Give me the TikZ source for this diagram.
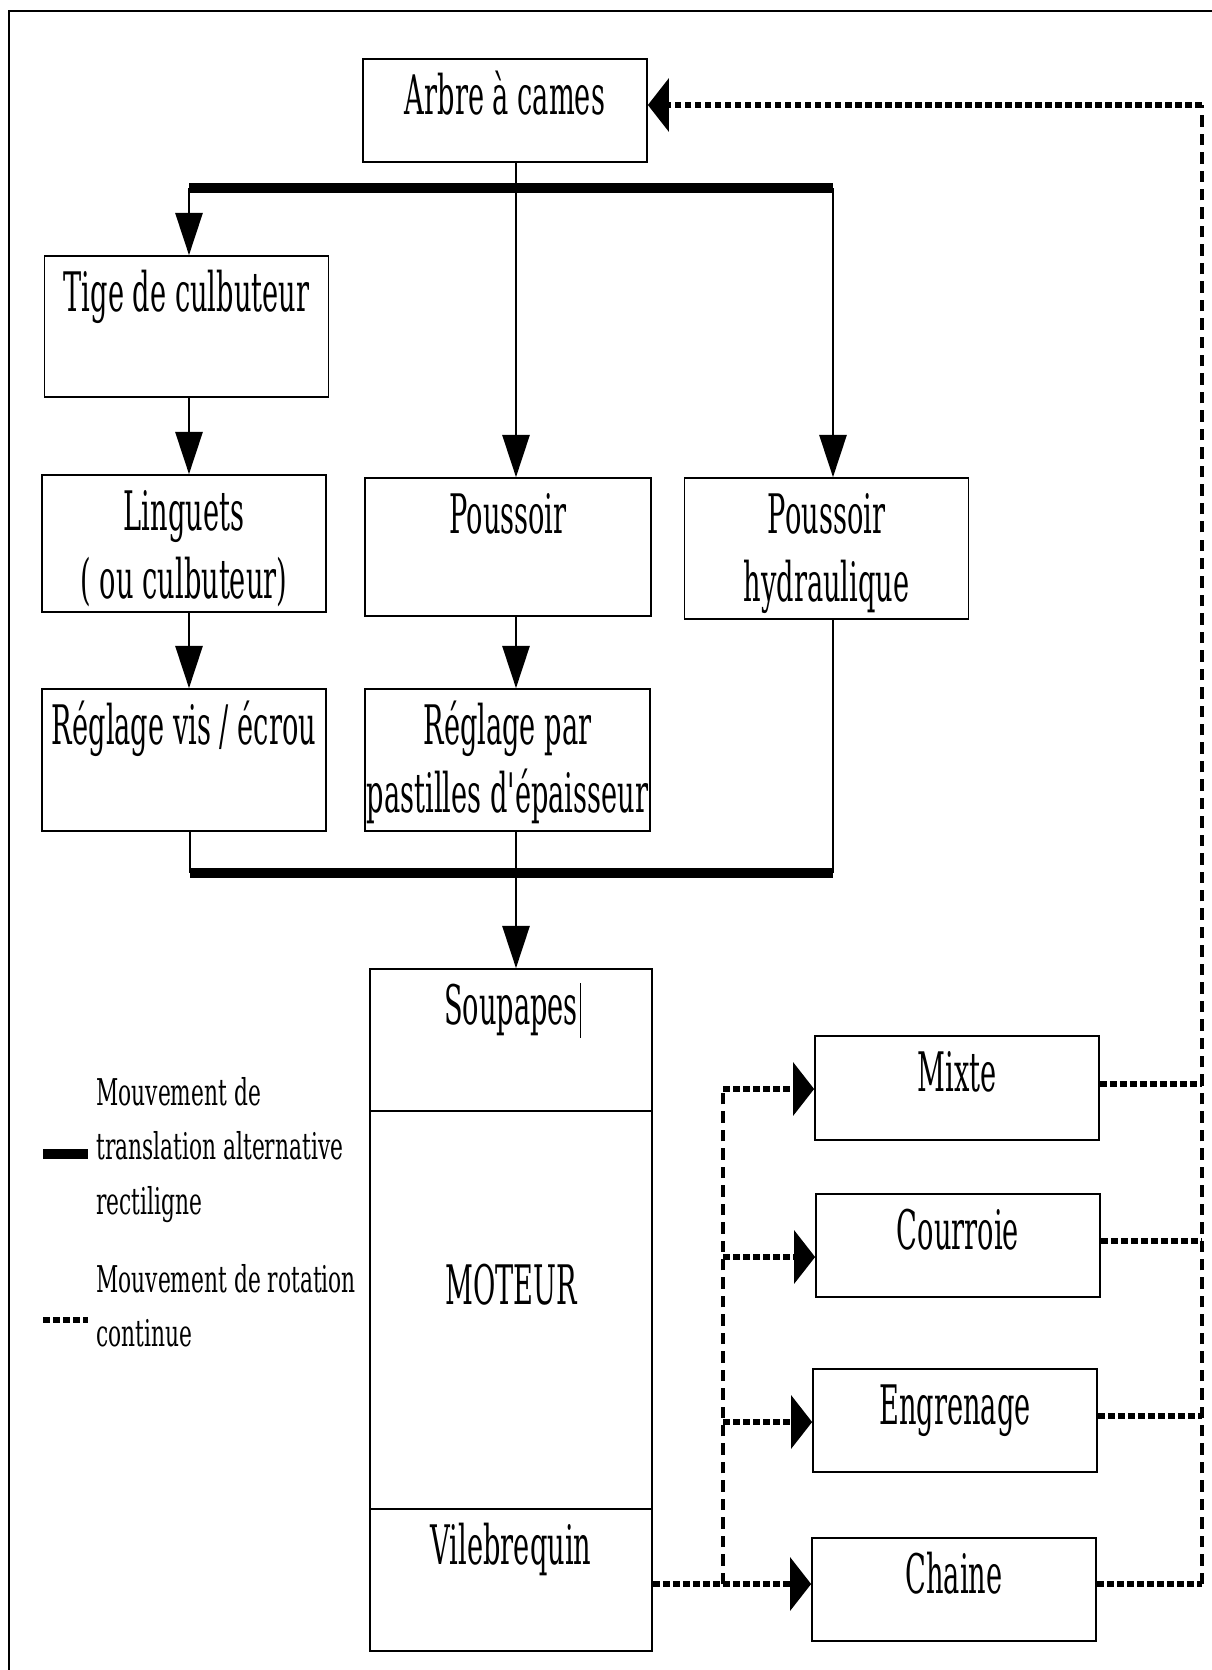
\documentclass[tikz,border=0pt]{standalone}
\usepackage{graphicx}
\usepackage{fontspec}
\newfontfamily\dvserif{DejaVu Serif}
\usetikzlibrary{arrows.meta}
\newcommand{\nar}[1]{\scalebox{0.5}[1]{#1}}
\newcommand{\narl}[1]{\scalebox{0.59}[1]{#1}}
\begin{document}
\begin{tikzpicture}[x=0.02cm, y=-0.02cm,
	box/.style={draw, line width=1pt, inner sep=0pt, minimum width=5.68cm},
	txt/.style={inner sep=0pt, align=center, anchor=north, font=\dvserif\fontsize{31}{39}\selectfont},
	leg/.style={inner sep=0pt, align=left, anchor=north west, font=\dvserif\fontsize{21}{31}\selectfont},
	link/.style={line width=1.1pt},
	arr/.style={link, -{Triangle[length=24pt, width=15.5pt]}},
	trans/.style={line width=5.2pt},
	rot/.style={line width=3.4pt, dash pattern=on 3.8pt off 1.9pt},
	rotv/.style={line width=2pt, dash pattern=on 6.5pt off 4pt},
	rotarr/.style={rot, -{Triangle[length=12pt, width=30pt]}}]
		\useasboundingbox (0,0) rectangle (1212,1670);
		% frame
		\draw[line width=1.6pt] (9,1670) -- (9,11) -- (1212,11);
		% camshaft
		\node[box, minimum height=2.06cm] (arbre) at (505,110.5) {};
		\node[txt] (arbreT) at ([yshift=-0.16cm]arbre.north) {\strut\nar{Arbre à cames}};
		% first row
		\node[box, minimum height=2.82cm] (tige) at (186.5,326.5) {};
		\node[txt] (tigeT) at ([yshift=-0.16cm]tige.north) {\strut\nar{Tige de culbuteur}};
		% second row
		\node[box, minimum height=2.74cm] (ling) at (184,543.5) {};
		\node[txt] (lingT) at ([yshift=-0.16cm]ling.north) {\strut\nar{Linguets}\\\strut\nar{( ou culbuteur)}};
		\node[box, minimum width=5.72cm, minimum height=2.76cm] (pouss) at (508,547) {};
		\node[txt] (poussT) at ([yshift=-0.16cm]pouss.north) {\strut\nar{Poussoir}};
		\node[box, minimum height=2.82cm] (hydro) at (826.5,548.5) {};
		\node[txt] (hydroT) at ([yshift=-0.16cm]hydro.north) {\strut\nar{Poussoir}\\\strut\nar{hydraulique}};
		% third row
		\node[box, minimum height=2.84cm] (reglVis) at (184,760) {};
		\node[txt] (reglVisT) at ([yshift=-0.16cm]reglVis.north) {\strut\nar{Réglage vis / écrou}};
		\node[box, minimum width=5.7cm, minimum height=2.84cm] (reglPar) at (507.5,760) {};
		\node[txt] (reglParT) at ([yshift=-0.16cm]reglPar.north) {\strut\nar{Réglage par}\\\strut\nar{pastilles d'épaisseur}};
		% engine column
		\node[box, minimum width=5.64cm, minimum height=2.84cm] (soup) at (511,1040) {};
		\node[txt] (soupT) at ([yshift=-0.16cm]soup.north) {\strut\nar{Soupapes}};
		\draw[line width=0.6pt] ([shift={(1.5pt,-4pt)}]soupT.north east) -- ([shift={(1.5pt,4pt)}]soupT.south east);
		\node[box, minimum width=5.64cm, minimum height=7.96cm] (moteur) at (511,1310) {};
		\node[txt] (moteurT) at ([yshift=-2.92cm]moteur.north) {\strut\nar{MOTEUR}};
		\node[box, minimum width=5.64cm, minimum height=2.84cm] (vileb) at (511,1580) {};
		\node[txt] (vilebT) at ([yshift=-0.16cm]vileb.north) {\strut\nar{Vilebrequin}};
		% drives
		\node[box, minimum height=2.08cm] (mixte) at (957,1088) {};
		\node[txt] (mixteT) at ([yshift=-0.16cm]mixte.north) {\strut\nar{Mixte}};
		\node[box, minimum height=2.06cm] (courroie) at (958,1245.5) {};
		\node[txt] (courroieT) at ([yshift=-0.16cm]courroie.north) {\strut\nar{Courroie}};
		\node[box, minimum height=2.06cm] (engr) at (955,1420.5) {};
		\node[txt] (engrT) at ([yshift=-0.16cm]engr.north) {\strut\nar{Engrenage}};
		\node[box, minimum height=2.06cm] (chaine) at (954,1589.5) {};
		\node[txt] (chaineT) at ([yshift=-0.16cm]chaine.north) {\strut\nar{Chaine}};
		% upper bar
		\coordinate (b1) at (189,188);
		\coordinate (b2) at (516,188);
		\coordinate (b3) at (833,188);
		\draw[trans] (b1) -- (b3);
		\draw[arr] (arbre.south -| b2) -- (pouss.north -| b2);
		\draw[arr] (b1) -- (tige.north -| b1);
		\draw[arr] (b3) -- (hydro.north -| b3);
		\draw[arr] (tige.south -| b1) -- (ling.north -| b1);
		\draw[arr] (ling.south -| b1) -- (reglVis.north -| b1);
		\draw[arr] (pouss.south -| b2) -- (reglPar.north -| b2);
		% lower bar
		\coordinate (c1) at (190,873);
		\coordinate (c2) at (516,873);
		\coordinate (c3) at (833,873);
		\draw[link] (reglVis.south -| c1) -- (c1);
		\draw[link] (hydro.south -| c3) -- (c3);
		\draw[trans] (c1) -- (c3);
		\draw[arr] (reglPar.south -| c2) -- (soup.north -| c2);
		% rotation, left side
		\coordinate (j1) at (723,1089);
		\coordinate (j2) at (723,1257);
		\coordinate (j3) at (723,1422);
		\coordinate (j4) at (723,1584);
		\draw[rotv] (j4) -- (j1);
		\draw[rotarr] (vileb.east |- j4) -- (chaine.west |- j4);
		\draw[rotarr] (j1) -- (mixte.west |- j1);
		\draw[rotarr] (j2) -- (courroie.west |- j2);
		\draw[rotarr] (j3) -- (engr.west |- j3);
		% rotation, right side
		\coordinate (r1) at (1202,1084);
		\coordinate (r2) at (1202,1241);
		\coordinate (r3) at (1202,1416);
		\coordinate (r4) at (1202,1584);
		\coordinate (rt) at (1202,105);
		\draw[rot] (mixte.east |- r1) -- (r1);
		\draw[rot] (courroie.east |- r2) -- (r2);
		\draw[rot] (engr.east |- r3) -- (r3);
		\draw[rot] (chaine.east |- r4) -- (r4);
		\draw[rotv] (r4) -- (rt);
		\draw[rotarr] (rt) -- (arbre.east |- rt);
		% legend
		\draw[trans] (43,1154) -- (88,1154);
		\node[leg] (legT) at (96,1067) {\strut\narl{Mouvement de}\\\strut\narl{translation alternative}\\\strut\narl{rectiligne}};
		\draw[rot] (43,1320) -- (88,1320);
		\node[leg] (legR) at (96,1254) {\strut\narl{Mouvement de rotation}\\\strut\narl{continue}};
\end{tikzpicture}
\end{document}
